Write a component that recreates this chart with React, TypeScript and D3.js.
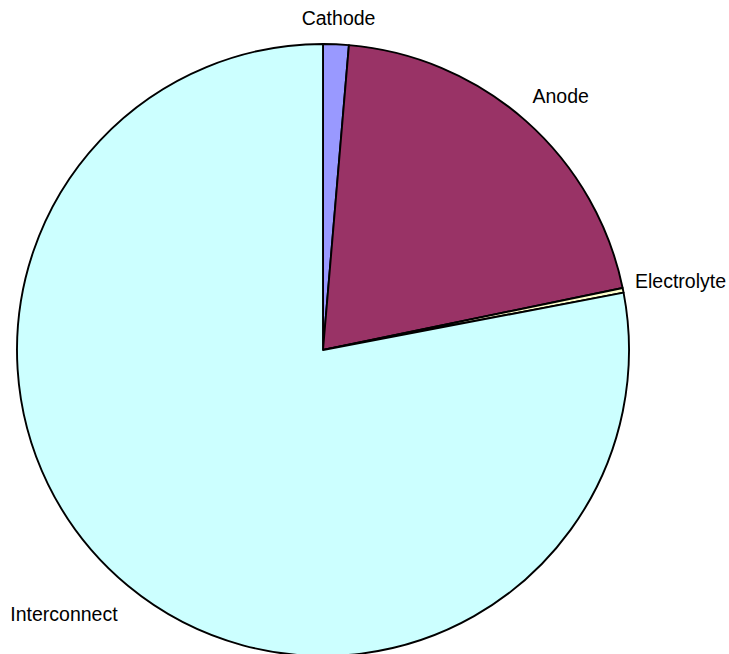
import React, { useEffect } from "react";
import * as d3 from "d3";

const categories = ["Cathode", "Anode", "Electrolyte", "Interconnect"];
const values = [1.35, 20.4, 0.25, 78.0];
const colors = ["#9999FF", "#993366", "#FFFFCC", "#CCFFFF"];

const W = 729;
const H = 654;
const CX = 323;
const CY = 350;
const R = 306;
const FONT = 19.5;
const LABEL_GAP = 24;

function measure(text: string): number {
  const c = document.createElement("canvas").getContext("2d");
  if (!c) return text.length * FONT * 0.55;
  c.font = `${FONT}px "Liberation Sans", Arial, sans-serif`;
  return c.measureText(text).width;
}

export default function App() {
  useEffect(() => {
    document.body.style.margin = "0";
  }, []);

  const pie = d3
    .pie<number>()
    .sort(null)
    .value((d) => d)
    .startAngle(0)
    .endAngle(2 * Math.PI);
  const arcs = pie(values);
  const arcGen = d3.arc<d3.PieArcDatum<number>>().innerRadius(0).outerRadius(R);

  return (
    <svg width={W} height={H} style={{ display: "block" }}>
      <g transform={`translate(${CX},${CY})`}>
        {arcs.map((a, i) => (
          <path
            key={categories[i]}
            d={arcGen(a) || ""}
            fill={colors[i]}
            stroke="#000"
            strokeWidth={1.9}
            strokeLinejoin="round"
          />
        ))}
        {arcs.map((a, i) => {
          const mid = (a.startAngle + a.endAngle) / 2;
          const s = Math.sin(mid);
          const c = Math.cos(mid);
          const w = measure(categories[i]);
          const h = FONT;
          const gap = LABEL_GAP + 10 * Math.max(0, -c);
          const px = (R + gap) * s;
          const py = -(R + gap) * c;
          let cx = px + (s * w) / 2 + (c < 0 ? s * 15 : 0);
          const cy = py - (c * h) / 2 + (c > 0.9 ? 7 : 0) - (Math.abs(s) > 0.9 ? 3 : 0) - (c < 0 ? 4 : 0);
          const maxCx = W - CX - 3 - w / 2;
          if (cx > maxCx) cx = maxCx;
          return (
            <text
              key={"l" + categories[i]}
              x={cx}
              y={cy}
              textAnchor="middle"
              dominantBaseline="central"
              fontFamily='"Liberation Sans", Arial, sans-serif'
              fontSize={FONT}
              fill="#000"
            >
              {categories[i]}
            </text>
          );
        })}
      </g>
    </svg>
  );
}
